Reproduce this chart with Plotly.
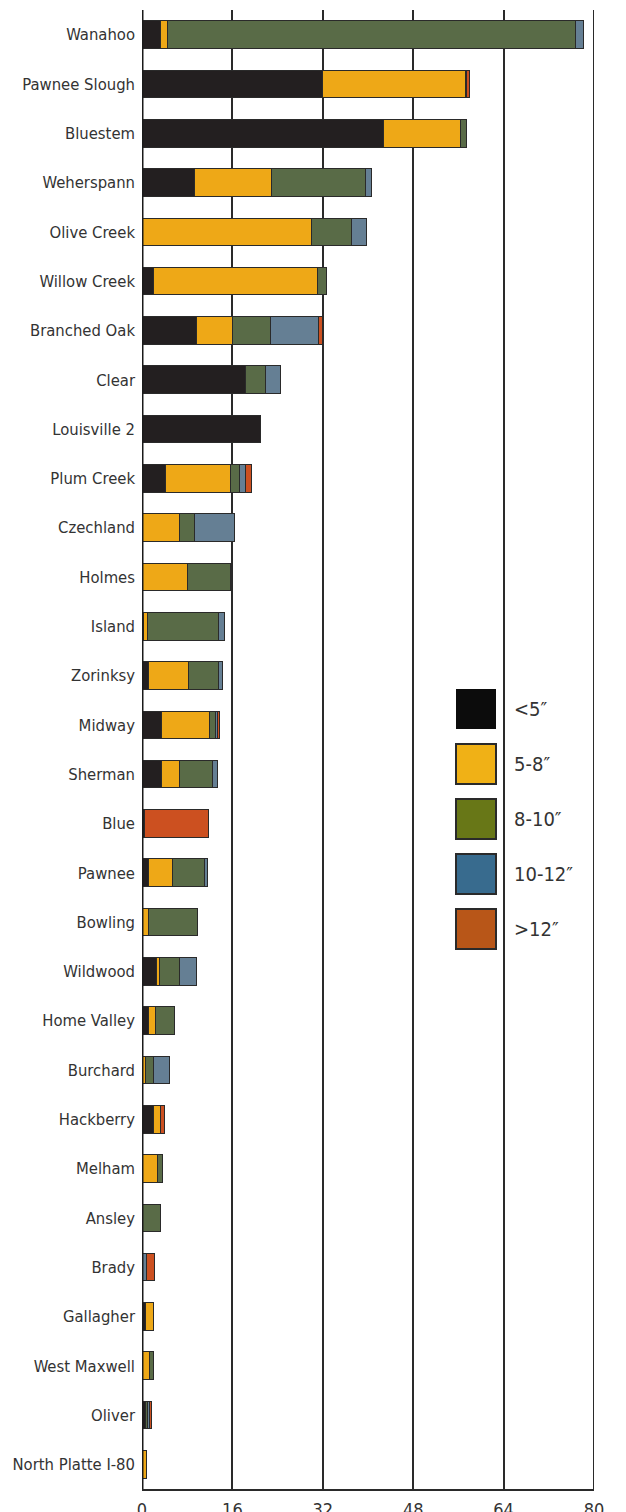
import plotly.graph_objects as go

lakes = ["Wanahoo", "Pawnee Slough", "Bluestem", "Weherspann", "Olive Creek", "Willow Creek",
         "Branched Oak", "Clear", "Louisville 2", "Plum Creek", "Czechland", "Holmes", "Island",
         "Zorinksy", "Midway", "Sherman", "Blue", "Pawnee", "Bowling", "Wildwood", "Home Valley",
         "Burchard", "Hackberry", "Melham", "Ansley", "Brady", "Gallagher", "West Maxwell",
         "Oliver", "North Platte I-80"]

under5 = [3.3, 31.9, 42.8, 9.3, 0, 2.1, 9.7, 18.4, 20.9, 4.1, 0, 0, 0.3, 1.1, 3.4, 3.4, 0.4, 1.2,
          0, 2.6, 1.2, 0, 2.1, 0, 0, 0, 0.7, 0, 0.6, 0]
s5to8 = [1.2, 25.3, 13.5, 13.7, 30.0, 28.9, 6.3, 0, 0, 11.6, 6.7, 8.0, 0.7, 7.1, 8.6, 3.3, 0, 4.2,
         1.2, 0.5, 1.25, 0.7, 1.1, 2.7, 0, 0, 1.35, 1.3, 0.1, 0.8]
s8to10 = [72.3, 0.2, 1.1, 16.6, 7.0, 1.7, 6.8, 3.5, 0, 1.6, 2.6, 7.7, 12.5, 5.3, 1.0, 5.7, 0, 5.6,
          8.6, 3.5, 3.25, 1.4, 0.1, 1.0, 3.3, 0, 0, 0.75, 0.2, 0]
s10to12 = [1.3, 0, 0, 1.0, 2.7, 0, 8.4, 2.6, 0, 1.0, 7.0, 0, 1.1, 0.8, 0.3, 0.9, 0, 0.6,
           0, 3.0, 0, 2.7, 0, 0, 0, 0.8, 0, 0, 0.4, 0]
over12 = [0, 0.6, 0, 0, 0, 0, 0.8, 0, 0, 1.0, 0, 0, 0, 0, 0.4, 0, 11.4, 0,
          0, 0, 0, 0, 0.6, 0, 0, 1.45, 0, 0, 0.4, 0]

series_names = ["<5\u2033", "5-8\u2033", "8-10\u2033", "10-12\u2033", ">12\u2033"]
series_values = [under5, s5to8, s8to10, s10to12, over12]
bar_colors = ["#231f20", "#eea817", "#596b47", "#657f94", "#cc5020"]
legend_colors = ["#0c0c0c", "#f0b116", "#687717", "#386b8e", "#b85618"]
x_ticks = [0, 16, 32, 48, 64, 80]

FONT = "DejaVu Sans Condensed, Liberation Sans Narrow, Roboto, sans-serif"

fig = go.Figure()
for name, vals, col in zip(series_names, series_values, bar_colors):
    fig.add_trace(go.Bar(
        y=lakes, x=[v if v else None for v in vals], name=name, orientation="h",
        marker=dict(color=col, line=dict(color="#2a2a2a", width=1)),
        showlegend=False,
    ))

# The page body adds an 8px offset; the figure is sized so the plot lands on the target pixels.
OFF = 8
W, H = 626 - OFF, 1512 - OFF
L, T = 142 - OFF, 10 - OFF
R = W - L - 452
B = H - (1489 - OFF)
pw, ph = W - L - R, H - T - B


def px2paper(x, y):
    # x, y are page pixels
    return (x - OFF - L) / pw, (H - B - (y - OFF)) / ph


shapes = []
annotations = []
leg_y = [709, 764, 819, 874, 929]
for i, (name, col) in enumerate(zip(series_names, legend_colors)):
    x0, y0 = px2paper(456, leg_y[i] - 20)
    x1, y1 = px2paper(496, leg_y[i] + 20)
    shapes.append(dict(type="rect", xref="paper", yref="paper", x0=x0, x1=x1, y0=y1, y1=y0,
                       fillcolor=col,
                       line=dict(color="#2a2a2a", width=0 if i == 0 else 2), layer="above"))
    ax, ay = px2paper(512, leg_y[i])
    annotations.append(dict(xref="paper", yref="paper", x=ax, y=ay, text=name, showarrow=False,
                            xanchor="left", yanchor="middle",
                            font=dict(family=FONT, size=20, color="#333333")))

shapes.append(dict(type="line", xref="x", yref="paper", x0=80, x1=80, y0=0, y1=1,
                   line=dict(color="#2a2a2a", width=2), layer="below"))

fig.update_layout(
    width=W, height=H,
    margin=dict(l=L, r=R, t=T, b=B, pad=0, autoexpand=False),
    barmode="stack", bargap=0.44,
    plot_bgcolor="white", paper_bgcolor="white",
    font=dict(family=FONT, size=17, color="#333333"),
    shapes=shapes, annotations=annotations,
    xaxis=dict(range=[0, 80], tickvals=x_ticks, ticktext=[str(t) for t in x_ticks],
               showgrid=True, gridcolor="#2a2a2a", gridwidth=2,
               showline=True, linecolor="#2a2a2a", linewidth=2,
               zeroline=False, ticks="", ticklabelstandoff=3, automargin=False,
               tickfont=dict(family=FONT, size=18, color="#333333")),
    yaxis=dict(autorange="reversed", showgrid=False, zeroline=False, automargin=False,
               showline=False, ticks="", ticklabelstandoff=6,
               tickfont=dict(family=FONT, size=16.5, color="#333333")),
)
fig.add_shape(type="line", xref="x", yref="paper", x0=0, x1=0, y0=0, y1=1,
              line=dict(color="#1a1a1a", width=3), layer="above")

fig.write_html("out.html")
